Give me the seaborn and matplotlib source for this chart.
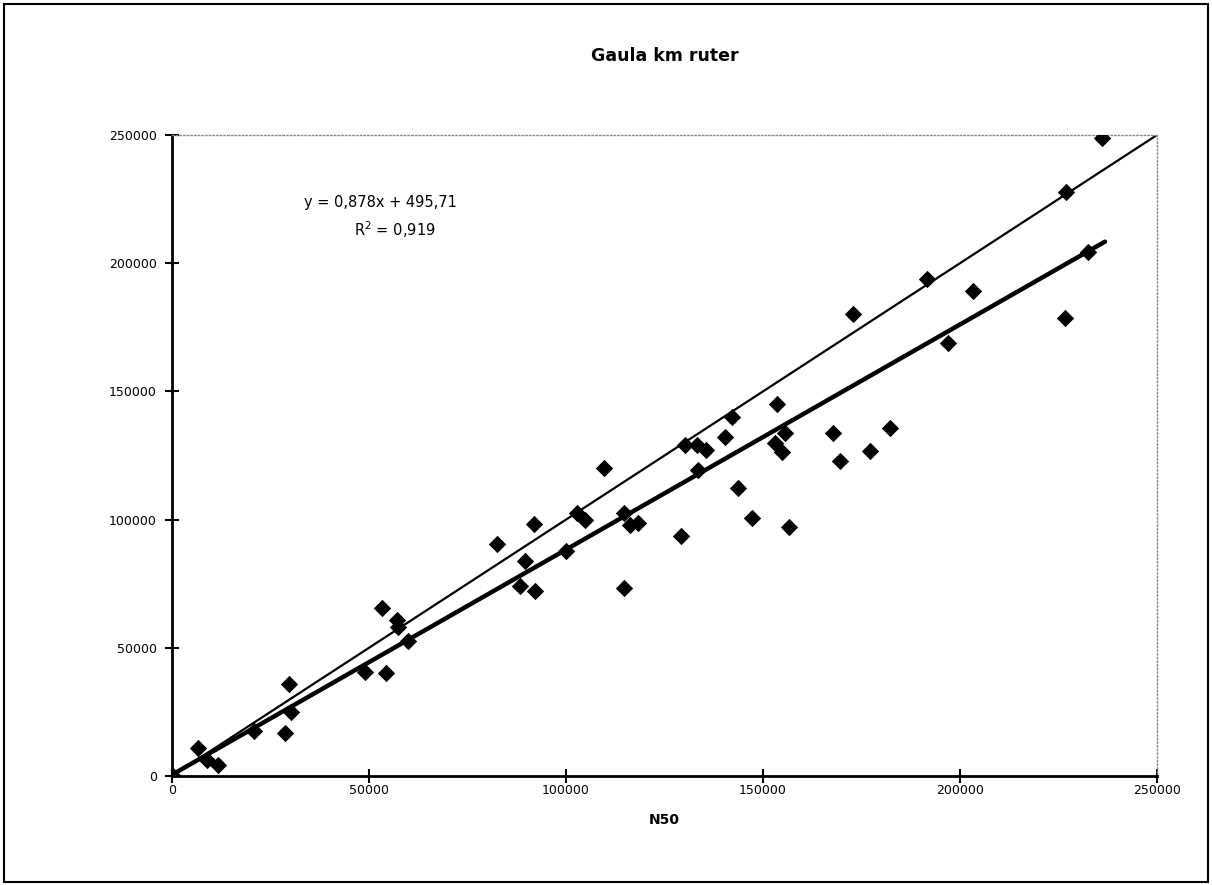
import numpy as np
import pandas as pd
import matplotlib
matplotlib.use("Agg")
import matplotlib.pyplot as plt
from matplotlib.patches import Rectangle
import seaborn as sns

# ---- data ----
n50 = [300, 6600, 8900, 11700, 20800, 28700, 29700, 30200, 49000, 53300,
       54300, 57100, 57400, 59900, 82500, 88300, 89600, 91900, 92100, 100000,
       102800, 104800, 109600, 114700, 114700, 116200, 118300, 129200, 130200, 133200,
       133500, 135500, 140400, 142100, 143700, 147200, 153000, 153600, 154800, 155600,
       156600, 167800, 169500, 172800, 177200, 182200, 191600, 197000, 203300, 226600,
       226900, 232500, 236000]
km_ruter = [0, 10900, 6200, 4300, 17600, 16800, 35900, 25000, 40600, 65500,
            40200, 60800, 58100, 52700, 90500, 74100, 83900, 98300, 72100, 87800,
            102600, 99900, 120100, 102600, 73300, 97900, 98700, 93600, 129100, 129100,
            119300, 127100, 132200, 140000, 112300, 100600, 130000, 145100, 126400, 133800,
            97100, 133800, 123000, 180200, 126800, 135700, 193800, 168900, 189200, 178600,
            227800, 204400, 249000]

slope = 0.878
intercept = 495.71
r2_text = "0,919"
trend_x = [0, 236800]
identity_x = [0, 250000]
ticks = [0, 50000, 100000, 150000, 200000, 250000]

title = "Gaula km ruter"
xlabel = "N50"
eq_text = "y = 0,878x + 495,71"

# ---- figure ----
sns.set_theme(style="white")
plt.rcParams['font.family'] = ['DejaVu Sans']
plt.rcParams['text.color'] = 'black'
plt.rcParams['axes.labelcolor'] = 'black'
plt.rcParams['xtick.color'] = 'black'
plt.rcParams['ytick.color'] = 'black'

fig = plt.figure(figsize=(12.12, 8.85), dpi=100)
ax = fig.add_axes([172/1212, 1-776/885, (1157-172)/1212, (776-135)/885])

df = pd.DataFrame({"N50": n50, "km": km_ruter})
sns.scatterplot(data=df, x="N50", y="km", marker="D", s=78, color="black",
                linewidth=0, ax=ax, zorder=3)

ident = pd.DataFrame({"x": identity_x, "y": identity_x})
sns.lineplot(data=ident, x="x", y="y", color="black", linewidth=1.6, ax=ax, zorder=2)

tx = np.array(trend_x, dtype=float)
trend = pd.DataFrame({"x": tx, "y": slope*tx + intercept})
sns.lineplot(data=trend, x="x", y="y", color="black", linewidth=3.2, ax=ax, zorder=2)

ax.set_xlim(0, 250000)
ax.set_ylim(0, 250000)
ax.set_xticks(ticks)
ax.set_yticks(ticks)
ax.set_xticklabels([str(t) for t in ticks])
ax.set_yticklabels([str(t) for t in ticks])
ax.tick_params(axis='both', which='major', direction='inout', length=10, width=1.5,
               color='black', labelsize=9, labelcolor='black')
ax.tick_params(axis='y', pad=6)
ax.tick_params(axis='x', pad=1)
ax.tick_params(bottom=True, left=True)

for side in ['left', 'bottom']:
    ax.spines[side].set_color('black')
    ax.spines[side].set_linewidth(2)
for side in ['top', 'right']:
    ax.spines[side].set_color('#8a8a8a')
    ax.spines[side].set_linestyle(':')
    ax.spines[side].set_linewidth(1)

ax.set_xlabel(xlabel, fontsize=10, fontweight='bold', labelpad=11, color='black')
ax.set_ylabel("")
ax.grid(False)

ax.text(53000, 223800, eq_text, fontsize=10.5, ha='center', va='center', color='black')
ax.text(56600, 213000, r"R$^2$ = " + r2_text, fontsize=10.5, ha='center', va='center',
        color='black')

fig.text((172+1157)/2/1212, 1-56/885, title, fontsize=12.5, fontweight='bold',
         ha='center', va='center', color='black')

fig.patches.append(Rectangle((0.003, 0.003), 0.994, 0.993, transform=fig.transFigure,
                             fill=False, edgecolor='black', linewidth=1.5))

fig.savefig("out.png", dpi=100, facecolor='white')
